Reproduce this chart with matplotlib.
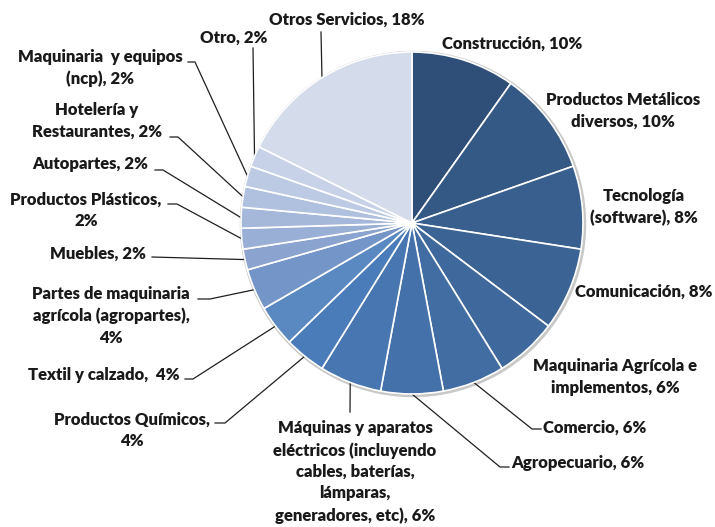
import matplotlib.pyplot as plt
import numpy as np

plt.rcParams['font.family'] = ['Lato', 'DejaVu Sans']

# sectores (porcentaje redondeado, en sentido horario desde las 12)
sectores = ['Construcción', 'Productos Metálicos\ndiversos', 'Tecnología\n(software)',
            'Comunicación', 'Maquinaria Agrícola e\nimplementos', 'Comercio',
            'Agropecuario',
            'Máquinas y aparatos\neléctricos (incluyendo\ncables, baterías,\nlámparas,\ngeneradores, etc)',
            'Productos Químicos,\n', 'Textil y calzado, ',
            'Partes de maquinaria\nagrícola (agropartes),\n', 'Muebles',
            'Productos Plásticos,\n', 'Autopartes', 'Hotelería y\nRestaurantes',
            'Maquinaria  y equipos\n(ncp)', 'Otro', 'Otros Servicios']
porcentajes = [10, 10, 8, 8, 6, 6, 6, 6, 4, 4, 4, 2, 2, 2, 2, 2, 2, 18]
colores = ['#2f4f78', '#345985', '#385f8e', '#3b6495', '#3f699c', '#416da3',
           '#4471a9', '#4776b1', '#4a7cb9', '#5a88c1', '#7495c8', '#8aa3cf',
           '#99afd5', '#a5b8da', '#b0c1df', '#bccae3', '#c7d2e8', '#d4dbea']

# posicion del texto (px), alineacion y codo de la linea guia
etiquetas = [
    ((512, 44), 'center', None),
    ((623, 111), 'center', None),
    ((644, 207), 'center', None),
    ((644, 292), 'center', None),
    ((615, 377), 'center', None),
    ((543, 428), 'left', [(532, 429), (541, 429)]),
    ((511, 463), 'left', [(500, 467), (509, 467)]),
    ((355, 472), 'center', [(350, 412)]),
    ((132, 430), 'center', [(225, 423), (215, 423)]),
    ((104, 375), 'center', [(193, 379), (185, 379)]),
    ((111, 316), 'center', [(210, 299), (198, 299)]),
    ((98, 254), 'center', [(152, 257)]),
    ((86, 210), 'center', [(177, 204), (168, 204)]),
    ((90, 164), 'center', [(163, 170), (155, 170)]),
    ((97, 121), 'center', [(178, 137), (170, 137)]),
    ((100, 68), 'center', [(195, 62), (188, 62)]),
    ((234, 38), 'center', [(253, 48)]),
    ((347, 20), 'center', [(321, 32)]),
]

W, H = 715, 527
cx, cy, r = 412, H - 223, 171

fig = plt.figure(figsize=(W / 100, H / 100), dpi=100)
ax = fig.add_axes([0, 0, 1, 1])

# borde exterior gris claro
ax.add_patch(plt.Circle((cx + 1, cy - 1), r + 1.5, color='#c8c8c8', zorder=0))

wedges, _ = ax.pie(porcentajes, colors=colores, startangle=90, counterclock=False,
                   center=(cx, cy), radius=r, frame=True,
                   wedgeprops=dict(edgecolor='white', linewidth=1.2))
ax.set_xlim(0, W)
ax.set_ylim(0, H)
ax.set_aspect('equal')
ax.axis('off')

for w, nombre, valor, (pos, ha, guia) in zip(wedges, sectores, porcentajes, etiquetas):
    if nombre.endswith('\n'):
        texto = nombre + f'{valor}%'
    elif nombre.endswith(' '):
        texto = nombre + f' {valor}%'
    else:
        texto = nombre + f', {valor}%'
    ax.text(pos[0], H - pos[1], texto, ha=ha, va='center', fontsize=12,
            fontweight='heavy', color='#1a1a1a', linespacing=1.42, multialignment='center')
    if guia:
        ang = np.deg2rad((w.theta1 + w.theta2) / 2)
        xs = [cx + r * np.cos(ang)] + [p[0] for p in guia]
        ys = [cy + r * np.sin(ang)] + [H - p[1] for p in guia]
        ax.plot(xs, ys, color='#1f1f1f', linewidth=0.9, zorder=0.5)

fig.savefig('out.png', dpi=100)
